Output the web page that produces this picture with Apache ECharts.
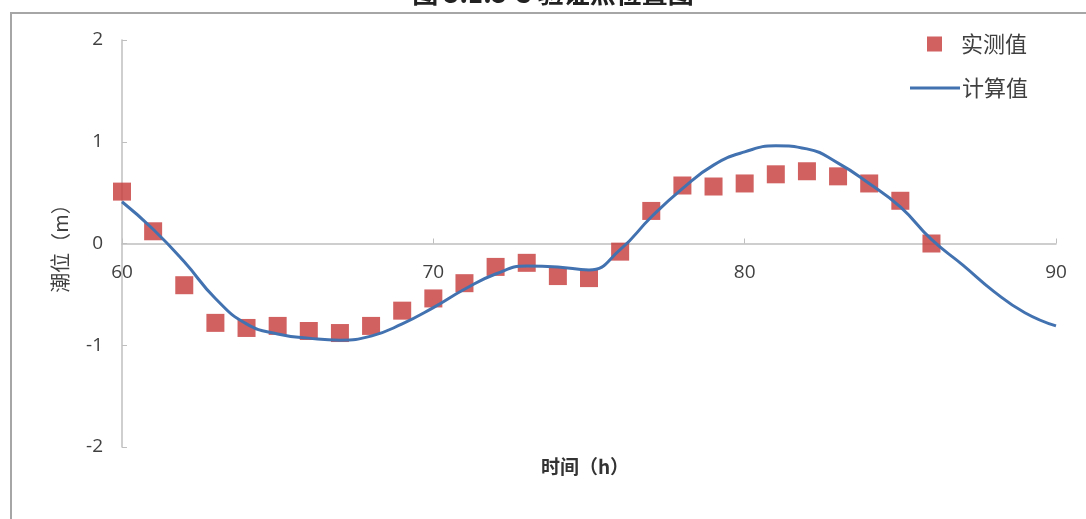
<!DOCTYPE html>
<html>
<head>
<meta charset="utf-8">
<script src="https://cdn.jsdelivr.net/npm/echarts@6/dist/echarts.min.js"></script>
<style>html,body{margin:0;padding:0;background:#fff;}#chart{width:1086px;height:519px;}</style>
</head>
<body>
<div id="chart"></div>
<script>
// measured (实测值), hourly from 60 h to 86 h
const measuredHours = [60,61,62,63,64,65,66,67,68,69,70,71,72,73,74,75,76,77,78,79,80,81,82,83,84,85,86];
const measuredValues = [0.51,0.12,-0.41,-0.78,-0.83,-0.81,-0.86,-0.88,-0.81,-0.66,-0.54,-0.39,-0.23,-0.19,-0.32,-0.34,-0.08,0.32,0.57,0.56,0.59,0.68,0.71,0.66,0.59,0.42,0.0];
// computed (计算值), hourly from 60 h to 90 h
const computedHours = [60,61,62,63,64,65,66,67,68,69,70,71,72,73,74,75,76,77,78,79,80,81,82,83,84,85,86,87,88,89,90];
const computedValues = [0.41,0.14,-0.18,-0.54,-0.79,-0.89,-0.93,-0.95,-0.91,-0.79,-0.63,-0.45,-0.30,-0.22,-0.23,-0.26,-0.06,0.26,0.54,0.77,0.90,0.96,0.93,0.79,0.59,0.36,0.04,-0.21,-0.47,-0.68,-0.81];
const xTicks = [60,70,80,90];
const yTicks = [-2,-1,0,1,2];
const titleText = '图 5.1.5-3 验证点位置图';
const xName = '时间（h）';
const yName = '潮位（m）';

const font = '"Noto Sans CJK SC","Noto Sans",sans-serif';
const chart = echarts.init(document.getElementById('chart'), null, {renderer:'canvas'});
const gridTop = 40, gridBottom = 72, H = 519;
const zeroOffset = -((H - gridTop - gridBottom) / 2);
chart.setOption({
  backgroundColor: '#fff',
  animation: false,
  graphic: [
    {type:'rect', shape:{x:11, y:13, width:1100, height:520}, style:{fill:'none', stroke:'#a6a6a6', lineWidth:2}, silent:true, z:0},
    {type:'text', x:553, y:6, style:{text:titleText, font:'bold 26px ' + font, fill:'#222', textAlign:'center', textVerticalAlign:'bottom'}, z:10},
    {type:'text', x:585, y:467, style:{text:xName, font:'bold 19px ' + font, fill:'#333', textAlign:'center', textVerticalAlign:'middle'}, z:10}
  ],
  grid: {left:122, right:30, top:gridTop, bottom:gridBottom, containLabel:false},
  legend: [
    {data:['实测值'], left:922, top:28, orient:'vertical', itemWidth:15, itemHeight:15,
     textStyle:{fontSize:22, color:'#404040', fontFamily:font, padding:[0,0,0,14]}},
    {data:[{name:'计算值', icon:'rect'}], left:905, top:72, orient:'vertical', itemWidth:50, itemHeight:3,
     textStyle:{fontSize:22, color:'#404040', fontFamily:font, padding:[0,0,0,-3]}}
  ],
  xAxis: {
    type:'value', min:60, max:90, interval:10,
    offset: zeroOffset,
    axisLine:{onZero:false, lineStyle:{color:'#bfbfbf', width:1.5}},
    axisTick:{show:true, inside:true, length:5, lineStyle:{color:'#bfbfbf'}},
    axisLabel:{fontSize:19, color:'#404040', margin:20, fontFamily:'"Open Sans",sans-serif',
      formatter: v => xTicks.includes(v) ? String(v) : ''},
    splitLine:{show:false}
  },
  yAxis: {
    type:'value', min:-2, max:2, interval:1,
    name:yName, nameLocation:'middle', nameGap:52,
    nameTextStyle:{fontSize:20, color:'#404040', fontFamily:font},
    axisLine:{show:true, lineStyle:{color:'#bfbfbf', width:1.5}},
    axisTick:{show:true, inside:true, length:5, lineStyle:{color:'#bfbfbf'}},
    axisLabel:{fontSize:19, color:'#404040', margin:19, fontFamily:'"Open Sans",sans-serif',
      formatter: v => yTicks.includes(v) ? String(v) : ''},
    splitLine:{show:false}
  },
  series: [
    {name:'实测值', type:'scatter', symbol:'rect', symbolSize:18,
     itemStyle:{color:'#C5383A'}, z:2,
     data: measuredHours.map((h,i)=>[h, measuredValues[i]])},
    {name:'计算值', type:'line', smooth:0.5, symbol:'none', showSymbol:false,
     lineStyle:{color:'#4372B0', width:3}, itemStyle:{color:'#4372B0'}, z:3,
     data: computedHours.map((h,i)=>[h, computedValues[i]])}
  ]
});
</script>
</body>
</html>
